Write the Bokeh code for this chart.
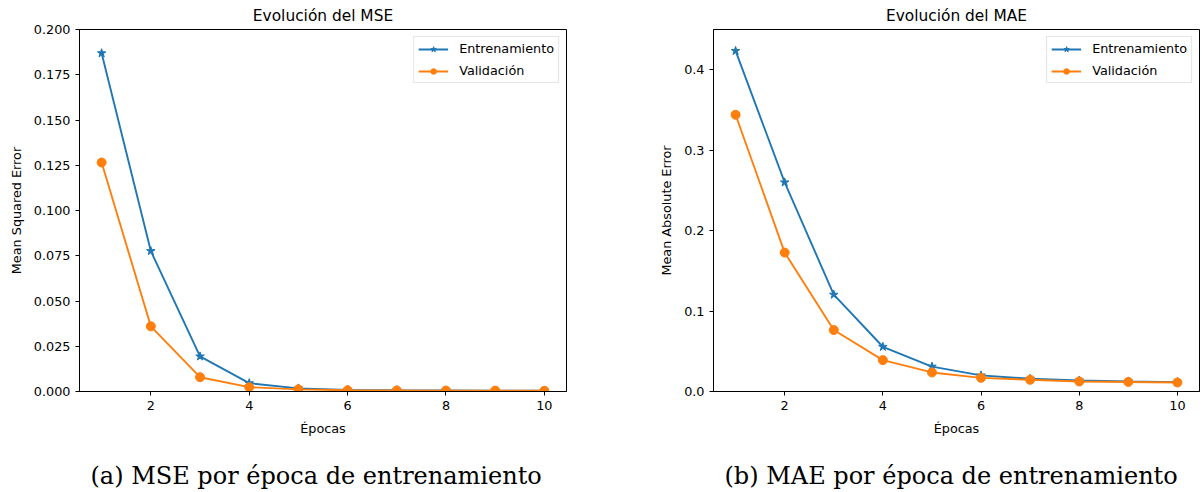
from bokeh.plotting import figure
from bokeh.models import Range1d, FixedTicker, NumeralTickFormatter, Title, Legend, LegendItem
from bokeh.layouts import row
from bokeh.embed import file_html
from bokeh.resources import INLINE

epochs = [1, 2, 3, 4, 5, 6, 7, 8, 9, 10]
mse_train = [0.1869, 0.0776, 0.0194, 0.0046, 0.0017, 0.0009, 0.0007, 0.0006, 0.0005, 0.0005]
mse_val = [0.1265, 0.0360, 0.0079, 0.0024, 0.0012, 0.0007, 0.0006, 0.0005, 0.0005, 0.0004]
mae_train = [0.4234, 0.2600, 0.1204, 0.0556, 0.0310, 0.0200, 0.0158, 0.0137, 0.0125, 0.0117]
mae_val = [0.3440, 0.1727, 0.0764, 0.0390, 0.0237, 0.0170, 0.0146, 0.0125, 0.0119, 0.0112]
x_ticks = [2, 4, 6, 8, 10]
mse_ticks = [0.0, 0.025, 0.05, 0.075, 0.1, 0.125, 0.15, 0.175, 0.2]
mae_ticks = [0.0, 0.1, 0.2, 0.3, 0.4]

BLUE = "#1f77b4"
ORANGE = "#ff7f0e"
TICK_FONT = "12.8px"


def make_panel(title, ylabel, train, val, yticks, yfmt, ymax, caption,
               width, border_left, border_right):
    p = figure(width=width, height=492, output_backend="svg", toolbar_location=None,
               x_range=Range1d(0.55, 10.45), y_range=Range1d(0, ymax),
               min_border_left=border_left, min_border_right=border_right,
               min_border_top=29, min_border_bottom=101)
    p.title.text = title
    p.title.align = "center"
    p.title.text_font = "DejaVu Sans"
    p.title.text_font_size = "15.4px"
    p.title.text_font_style = "normal"
    p.title.text_color = "black"
    p.title.standoff = 9

    p.grid.visible = False
    p.outline_line_color = "black"
    p.outline_line_alpha = 1
    p.outline_line_width = 1
    p.background_fill_color = "white"
    p.border_fill_color = "white"

    for ax in (p.xaxis[0], p.yaxis[0]):
        ax.axis_line_color = "black"
        ax.major_tick_line_color = "black"
        ax.major_tick_out = 4
        ax.major_tick_in = 0
        ax.minor_tick_line_color = None
        ax.major_label_text_font = "DejaVu Sans"
        ax.major_label_text_font_size = TICK_FONT
        ax.major_label_text_color = "black"
        ax.axis_label_text_font = "DejaVu Sans"
        ax.axis_label_text_font_size = TICK_FONT
        ax.axis_label_text_font_style = "normal"
        ax.axis_label_text_color = "black"
        ax.major_label_standoff = 5

    p.xaxis.ticker = FixedTicker(ticks=x_ticks)
    p.xaxis.axis_label = "Épocas"
    p.xaxis.axis_label_standoff = 8
    p.yaxis.ticker = FixedTicker(ticks=yticks)
    p.yaxis.formatter = NumeralTickFormatter(format=yfmt)
    p.yaxis.axis_label = ylabel
    p.yaxis.axis_label_standoff = 7

    l1 = p.line(epochs, train, line_color=BLUE, line_width=1.9)
    s1 = p.scatter(epochs, train, marker="star", size=9, fill_color=BLUE, line_color=BLUE)
    l2 = p.line(epochs, val, line_color=ORANGE, line_width=1.9)
    s2 = p.scatter(epochs, val, marker="circle", size=9, fill_color=ORANGE, line_color=ORANGE)

    legend = Legend(items=[LegendItem(label="Entrenamiento", renderers=[l1, s1]),
                           LegendItem(label="Validación", renderers=[l2, s2])],
                    location="top_right", margin=7, padding=4, spacing=7,
                    label_height=14, glyph_height=14, glyph_width=30, label_standoff=11,
                    label_text_font="DejaVu Sans", label_text_font_size=TICK_FONT,
                    label_text_color="black",
                    border_line_color="#cccccc", border_line_width=1,
                    background_fill_alpha=0.8)
    p.add_layout(legend, "center")

    spacer = Title(text=" ", text_font_size="1px", standoff=16)
    p.add_layout(spacer, "below")
    cap = Title(text=caption, align="left", offset=11, text_font="DejaVu Serif",
                text_font_size="24px", text_font_style="normal", text_color="black",
                standoff=4)
    p.add_layout(cap, "below")
    return p


p1 = make_panel("Evolución del MSE", "Mean Squared Error", mse_train, mse_val,
                mse_ticks, "0.000", 0.2, "(a) MSE por época de entrenamiento",
                608, 79, 42)
p2 = make_panel("Evolución del MAE", "Mean Absolute Error", mae_train, mae_val,
                mae_ticks, "0.0", 0.45, "(b) MAE por época de entrenamiento",
                595, 105, 4)

layout = row(p1, p2)
open("out.html", "w").write(file_html(layout, INLINE))
